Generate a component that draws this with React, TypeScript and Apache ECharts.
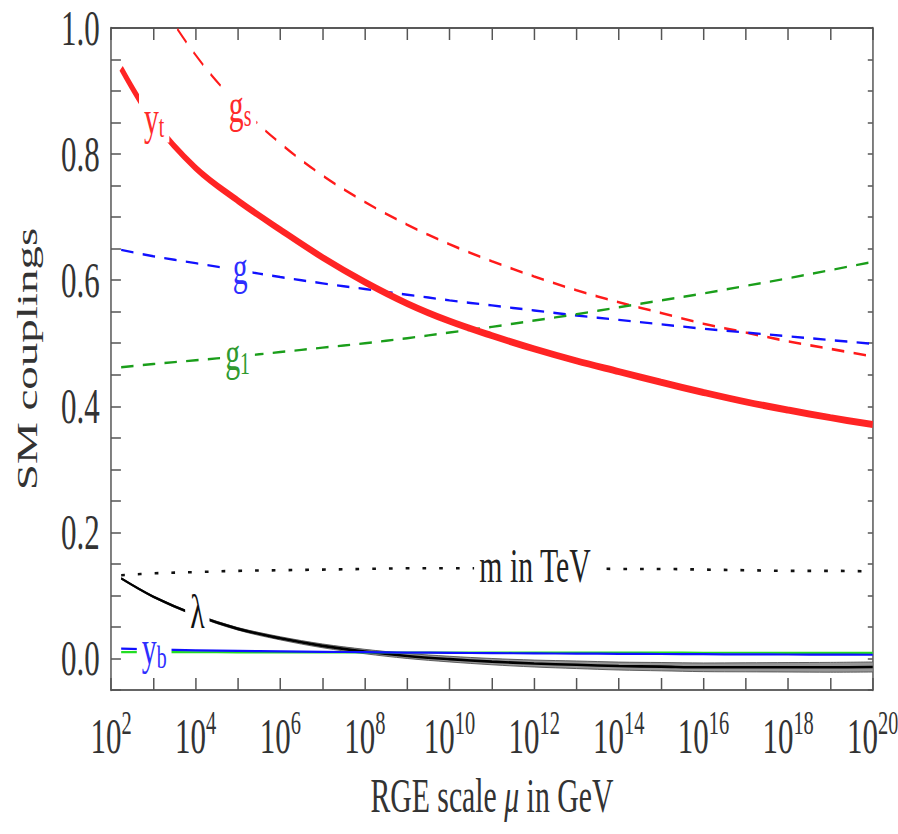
import React, { useEffect, useRef } from "react";
import * as echarts from "echarts";

// x = log10(mu / GeV)
const logMu = [2.24, 3, 4, 5, 6, 7, 8, 9, 10, 11, 12, 13, 14, 15, 16, 17, 18, 19, 20];
const gsVals = [1.167, 1.061, 0.957, 0.879, 0.817, 0.766, 0.724, 0.688, 0.657, 0.63, 0.606, 0.584, 0.565, 0.548, 0.531, 0.517, 0.503, 0.491, 0.479];
const gVals = [0.648, 0.638, 0.627, 0.616, 0.605, 0.595, 0.586, 0.577, 0.568, 0.56, 0.552, 0.544, 0.537, 0.53, 0.523, 0.517, 0.511, 0.505, 0.499];
const g1Vals = [0.462, 0.467, 0.473, 0.479, 0.486, 0.493, 0.5, 0.508, 0.517, 0.526, 0.536, 0.546, 0.557, 0.568, 0.579, 0.591, 0.603, 0.616, 0.629];
const ytVals = [0.936, 0.853, 0.778, 0.726, 0.68, 0.636, 0.597, 0.563, 0.535, 0.512, 0.491, 0.472, 0.455, 0.438, 0.422, 0.407, 0.394, 0.382, 0.371];
const lambdaVals = [0.127, 0.098, 0.069, 0.047, 0.032, 0.02, 0.011, 0.004, -0.001, -0.005, -0.008, -0.01, -0.012, -0.013, -0.014, -0.014, -0.014, -0.014, -0.0135];
const lambdaLow = [0.126, 0.0968, 0.0675, 0.045, 0.0295, 0.017, 0.0075, 0.0, -0.0055, -0.01, -0.0135, -0.016, -0.0183, -0.0196, -0.0209, -0.0212, -0.0215, -0.0218, -0.0215];
const lambdaHigh = [0.128, 0.0992, 0.0705, 0.049, 0.0345, 0.023, 0.0145, 0.008, 0.0035, 0.0, -0.0025, -0.004, -0.0057, -0.0064, -0.0071, -0.0068, -0.0065, -0.0062, -0.0055];
const mVals = [0.132, 0.135, 0.137, 0.139, 0.14, 0.141, 0.142, 0.143, 0.143, 0.143, 0.143, 0.143, 0.142, 0.142, 0.141, 0.14, 0.139, 0.139, 0.138];
const ybVals = [0.0156, 0.0142, 0.013, 0.0121, 0.0113, 0.0106, 0.01, 0.0094, 0.0089, 0.0085, 0.0081, 0.0077, 0.0074, 0.0071, 0.0068, 0.0065, 0.0063, 0.0061, 0.0059];
const ytauVals = [0.01, 0.01, 0.0099, 0.0098, 0.0097, 0.0096, 0.0095, 0.0095, 0.0094, 0.0094, 0.0093, 0.0093, 0.0092, 0.0092, 0.0091, 0.0091, 0.009, 0.009, 0.009];

// curve labels
const labelText = ["{m|y}{sub|t}", "{m|g}{sub|s}", "{m|g}", "{m|g}{sub|1}", "{m|λ}", "{m|m in TeV}", "{m|y}{sub|b}"];
const labelMu = [3.02, 5.05, 5.05, 4.99, 4.04, 12.02, 3.02];
const labelY = [0.858, 0.876, 0.62, 0.483, 0.0745, 0.147, 0.017];
const labelColor = ["#ff2a2a", "#ff2a2a", "#2e2eff", "#2f9a2f", "#111111", "#222222", "#2e2eff"];

// tick labels
const yTickLabels = ["0.0", "0.2", "0.4", "0.6", "0.8", "1.0"];
const xTickExponents = [2, 4, 6, 8, 10, 12, 14, 16, 18, 20];

const SQUISH = 0.62;
const OUT_W = 898;
const OUT_H = 834;
const IN_W = Math.round(OUT_W / SQUISH);
const FONT = "'Liberation Serif', 'Times New Roman', serif";
const TXT = "#333333";

const pts = (ys: number[]) => logMu.map((t, i) => [t, ys[i]]);

function buildOption(): any {
  const lineBase = { type: "line", showSymbol: false, symbol: "none", smooth: 0.35, xAxisIndex: 0, yAxisIndex: 0 };
  const axisCommonX = { type: "value", min: 2, max: 20, interval: 1, splitLine: { show: false } };
  const axisCommonY = { type: "value", min: -0.05, max: 1.0, interval: 0.05, splitLine: { show: false } };
  return {
    animation: false,
    backgroundColor: "#ffffff",
    grid: { left: 111 / SQUISH, right: 25 / SQUISH, top: 28, bottom: 144, containLabel: false, outerBoundsMode: "none" },
    xAxis: [
      {
        ...axisCommonX,
        position: "bottom",
        axisLine: { show: true, onZero: false, lineStyle: { color: "#333", width: 1.5 } },
        axisTick: { show: true, inside: true, length: 12, lineStyle: { color: "#555", width: 2.4 } },
        axisLabel: {
          margin: 17,
          formatter: (v: number) =>
            xTickExponents.indexOf(Math.round(v)) >= 0 && Math.abs(v - Math.round(v)) < 1e-6 ? `{b|10}{s|${Math.round(v)}}` : "",
          rich: {
            b: { fontSize: 50, fontFamily: FONT, color: TXT, lineHeight: 58 },
            s: { fontSize: 33, fontFamily: FONT, color: TXT, lineHeight: 34, verticalAlign: "top" },
          },
        },
        name: "RGE scale {i|μ} in GeV",
        nameLocation: "middle",
        nameGap: 82,
        nameTextStyle: {
          fontSize: 48,
          fontFamily: FONT,
          color: TXT,
          rich: { i: { fontSize: 48, fontFamily: FONT, color: TXT, fontStyle: "italic" } },
        },
      },
      {
        ...axisCommonX,
        position: "top",
        axisLine: { show: true, onZero: false, lineStyle: { color: "#222", width: 1.5 } },
        axisTick: { show: true, inside: true, length: 12, lineStyle: { color: "#555", width: 2.4 } },
        axisLabel: { show: false },
      },
    ],
    yAxis: [
      {
        ...axisCommonY,
        position: "left",
        axisLine: { show: true, onZero: false, lineStyle: { color: "#555", width: 2.4 } },
        axisTick: { show: true, inside: true, length: 16, lineStyle: { color: "#555", width: 1.5 } },
        axisLabel: {
          margin: 18,
          fontSize: 50,
          fontFamily: FONT,
          color: TXT,
          formatter: (v: number) => {
            const k = v * 5;
            if (Math.abs(k - Math.round(k)) > 1e-6 || Math.round(k) < 0) return "";
            return yTickLabels[Math.round(k)] ?? "";
          },
        },
        name: "SM couplings",
        nameLocation: "middle",
        nameGap: 112,
        nameTextStyle: { fontSize: 47, fontFamily: FONT, color: TXT },
      },
      {
        ...axisCommonY,
        position: "right",
        axisLine: { show: true, onZero: false, lineStyle: { color: "#555", width: 2.4 } },
        axisTick: { show: true, inside: true, length: 8, lineStyle: { color: "#555", width: 1.5 } },
        axisLabel: { show: false },
      },
    ],
    series: [
      {
        ...lineBase,
        name: "gs",
        data: pts(gsVals),
        lineStyle: { color: "#ff1a1a", width: 2.6, type: [20, 15] },
        z: 3,
      },
      {
        ...lineBase,
        name: "g",
        data: pts(gVals),
        lineStyle: { color: "#1010ff", width: 2.4, type: [20, 15] },
        z: 3,
      },
      {
        ...lineBase,
        name: "g1",
        data: pts(g1Vals),
        lineStyle: { color: "#1a9e1a", width: 2.4, type: [20, 15] },
        z: 3,
      },
      {
        ...lineBase,
        name: "yt",
        data: pts(ytVals),
        lineStyle: { color: "#ff2424", width: 7 },
        z: 4,
      },
      {
        type: "custom",
        name: "lambdaBand",
        xAxisIndex: 0,
        yAxisIndex: 0,
        silent: true,
        clip: true,
        z: 2,
        data: [[logMu[0], lambdaVals[0]]],
        renderItem: (_params: any, api: any) => {
          const upper = logMu.map((t, i) => api.coord([t, lambdaHigh[i]]));
          const lower = logMu.map((t, i) => api.coord([t, lambdaLow[i]])).reverse();
          return {
            type: "polygon",
            shape: { points: upper.concat(lower) },
            style: { fill: "#8c8c8c", opacity: 0.9 },
          };
        },
      },
      {
        ...lineBase,
        name: "lambdaLow",
        data: pts(lambdaLow),
        lineStyle: { color: "#444", width: 1 },
        z: 2,
      },
      {
        ...lineBase,
        name: "lambdaHigh",
        data: pts(lambdaHigh),
        lineStyle: { color: "#444", width: 1 },
        z: 2,
      },
      {
        ...lineBase,
        name: "lambda",
        data: pts(lambdaVals),
        lineStyle: { color: "#000", width: 2.6 },
        z: 3,
      },
      {
        ...lineBase,
        name: "m",
        data: pts(mVals),
        lineStyle: { color: "#111", width: 2.6, type: [6, 21] },
        z: 3,
      },
      {
        ...lineBase,
        name: "ytau",
        data: pts(ytauVals),
        lineStyle: { color: "#22dd22", width: 2.2 },
        z: 3,
      },
      {
        ...lineBase,
        name: "yb",
        data: pts(ybVals),
        lineStyle: { color: "#1010ff", width: 2.2 },
        z: 3,
      },
      {
        type: "scatter",
        name: "labels",
        symbolSize: 0,
        z: 10,
        silent: true,
        itemStyle: { opacity: 1 },
        data: labelText.map((txt, i) => ({
          value: [labelMu[i], labelY[i]],
          label: {
            show: true,
            position: "inside",
            formatter: txt,
            color: labelColor[i],
            backgroundColor: "#ffffff",
            padding: [0, 8, 0, 8],
            rich: {
              m: { fontSize: 48, fontFamily: FONT, color: labelColor[i], lineHeight: 50 },
              sub: { fontSize: 32, fontFamily: FONT, color: labelColor[i], lineHeight: 28, verticalAlign: "bottom" },
            },
          },
        })),
      },
    ],
  };
}

export default function App() {
  const ref = useRef<HTMLDivElement>(null);
  useEffect(() => {
    if (!ref.current) return;
    const chart = echarts.init(ref.current, null, { renderer: "svg", width: IN_W, height: OUT_H });
    chart.setOption(buildOption());
    return () => chart.dispose();
  }, []);
  return (
    <div
      style={{
        position: "absolute",
        left: 0,
        top: 0,
        width: OUT_W,
        height: OUT_H,
        overflow: "hidden",
        background: "#fff",
      }}
    >
      <div
        ref={ref}
        style={{ width: IN_W, height: OUT_H, transform: `scaleX(${SQUISH})`, transformOrigin: "0 0" }}
      />
    </div>
  );
}
